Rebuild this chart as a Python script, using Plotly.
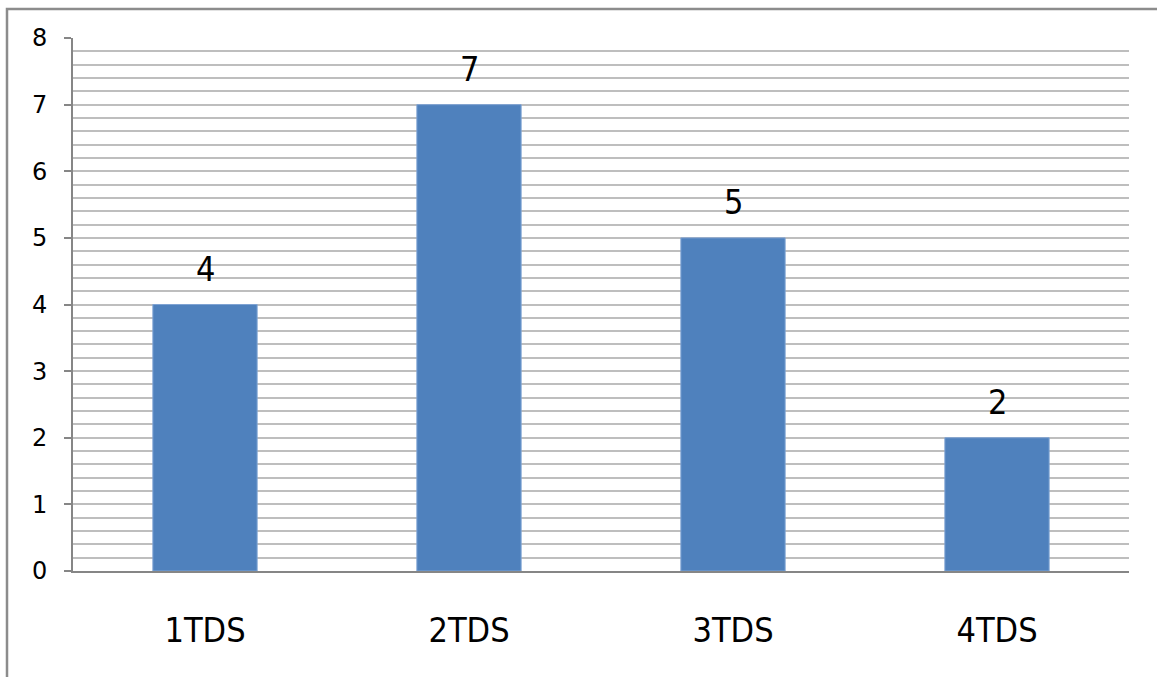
import plotly.graph_objects as go

# Number of items per group
categories = ["1TDS", "2TDS", "3TDS", "4TDS"]
values = [4, 7, 5, 2]
y_ticks = [0, 1, 2, 3, 4, 5, 6, 7, 8]

FONT = "Liberation Sans Narrow, DejaVu Sans Condensed, Arial Narrow, sans-serif"
TICK_FONT = "DejaVu Sans, sans-serif"
BAR_BLUE = "#4F81BD"
AXIS_GRAY = "#868686"
GRID_GRAY = "#BEBEBE"

fig = go.Figure()
fig.add_trace(go.Bar(
    x=categories,
    y=values,
    width=0.395,
    marker=dict(color=BAR_BLUE, line=dict(color="#7FA3D3", width=1)),
    hoverinfo="x+y",
))

# Value labels above each bar
for cat, val in zip(categories, values):
    fig.add_annotation(
        x=cat, y=val, text=str(val), showarrow=False,
        xanchor="center", yanchor="bottom", yshift=14,
        font=dict(family=FONT, size=34, color="#000000"),
    )

# Outer frame of the chart
fig.add_shape(
    type="rect", xref="paper", yref="paper",
    x0=-0.0625, x1=1.04, y0=-0.21, y1=1.0544,
    line=dict(color="#8C8C8C", width=2.5), fillcolor="rgba(0,0,0,0)",
    layer="below",
)

fig.update_layout(
    width=1157, height=677,
    margin=dict(l=73, r=28, t=38, b=106),
    paper_bgcolor="#FFFFFF", plot_bgcolor="#FFFFFF",
    showlegend=False,
    bargap=0.6,
    font=dict(family=FONT, color="#000000"),
)

fig.update_xaxes(
    type="category",
    range=[-0.5, 3.5],
    showgrid=False,
    showline=True, linecolor=AXIS_GRAY, linewidth=2,
    ticks="", ticklabelstandoff=28,
    tickfont=dict(family=FONT, size=34, color="#000000"),
    zeroline=False,
)

fig.update_yaxes(
    range=[0, 8],
    tickvals=y_ticks,
    showgrid=True, gridcolor=GRID_GRAY, gridwidth=1.5,
    minor=dict(dtick=0.2, showgrid=True, gridcolor=GRID_GRAY, gridwidth=1.5, ticks=""),
    showline=True, linecolor=AXIS_GRAY, linewidth=2,
    ticks="outside", ticklen=7, tickcolor=AXIS_GRAY, tickwidth=2,
    ticklabelstandoff=12,
    tickfont=dict(family=TICK_FONT, size=24, color="#000000"),
    zeroline=False,
)

fig.write_html("out.html")
